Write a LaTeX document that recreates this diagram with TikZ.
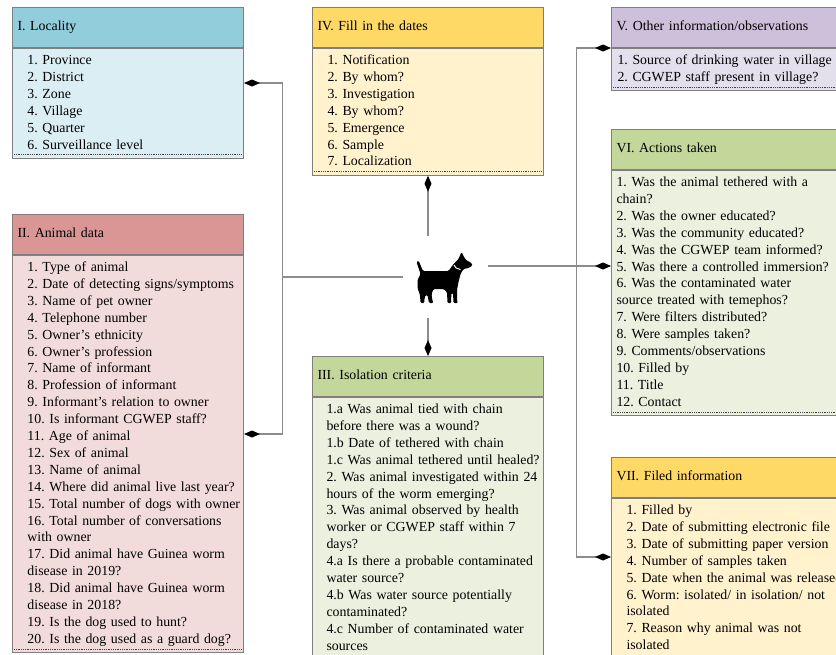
\documentclass[tikz,border=0pt]{standalone}
\usepackage{fontspec}
\setmainfont{Liberation Serif}
\usetikzlibrary{positioning, calc, arrows.meta}

\definecolor{locHead}{HTML}{92CDDC}
\definecolor{locBody}{HTML}{DAEEF3}
\definecolor{aniHead}{HTML}{DA9694}
\definecolor{aniBody}{HTML}{F2DCDB}
\definecolor{datHead}{HTML}{FFD966}
\definecolor{datBody}{HTML}{FFF2CC}
\definecolor{isoHead}{HTML}{C4D79B}
\definecolor{isoBody}{HTML}{EBF1DE}
\definecolor{othHead}{HTML}{CCC0DA}
\definecolor{othBody}{HTML}{E4DFEC}
\definecolor{boxLine}{HTML}{7F7F7F}
\definecolor{linkGray}{HTML}{8C8C8C}

\begin{document}
\frenchspacing
\begin{tikzpicture}[
    x=1pt, y=-1pt,
    font=\fontsize{13.85pt}{16.9pt}\selectfont,
    head/.style={draw=boxLine, line width=1pt, fill=#1, anchor=north west,
        minimum width=231pt, minimum height=40pt, text width=221pt,
        inner xsep=5pt, align=left, execute at begin node=\strut},
    body/.style 2 args={draw=boxLine, line width=1pt, fill=#1,
        text width=231pt, inner xsep=0pt, inner ysep=4.2pt, align=left,
        execute at begin node={\leftskip=#2\rightskip=-40pt plus 1fil\relax\strut},
        execute at end node=\strut},
    dotline/.style={draw=black!75, line width=0.8pt, densely dotted},
    link/.style={draw=linkGray, line width=1.1pt},
    dia/.style={-{Diamond[length=16pt, width=7pt, color=black]}}
]
    \useasboundingbox (0,0) rectangle (836,654);

    % left column
    \node[head=locHead] (locH) at (12,7) {I. Locality};
    \node[body={locBody}{15pt}, below=0pt of locH] (locB) {1. Province\\2. District\\3. Zone\\4. Village\\5. Quarter\\6. Surveillance level};

    \node[head=aniHead] (aniH) at (12,214) {II. Animal data};
    \node[body={aniBody}{15pt}, below=0pt of aniH] (aniB) {1. Type of animal\\
        2. Date of detecting signs/symptoms\\
        3. Name of pet owner\\
        4. Telephone number\\
        5. Owner's ethnicity\\
        6. Owner's profession\\
        7. Name of informant\\
        8. Profession of informant\\
        9. Informant's relation to owner\\
        10. Is informant CGWEP staff?\\
        11. Age of animal\\
        12. Sex of animal\\
        13. Name of animal\\
        14. Where did animal live last year?\\
        15. Total number of dogs with owner\\
        16. Total number of conversations\\
        with owner\\
        17. Did animal have Guinea worm\\
        disease in 2019?\\
        18. Did animal have Guinea worm\\
        disease in 2018?\\
        19. Is the dog used to hunt?\\
        20. Is the dog used as a guard dog?};

    % middle column
    \node[head=datHead] (datH) at (312,7) {IV. Fill in the dates};
    \node[body={datBody}{15pt}, below=0pt of datH] (datB) {1. Notification\\2. By whom?\\3. Investigation\\4. By whom?\\5. Emergence\\6. Sample\\7. Localization};

    \node[head=isoHead] (isoH) at (312,356) {III. Isolation criteria};
    \node[body={isoBody}{14pt}, below=0pt of isoH] (isoB) {1.a Was animal tied with chain\\
        before there was a wound?\\
        1.b Date of tethered with chain\\
        1.c Was animal tethered until healed?\\
        2. Was animal investigated within 24\\
        hours of the worm emerging?\\
        3. Was animal observed by health\\
        worker or CGWEP staff within 7\\
        days?\\
        4.a Is there a probable contaminated\\
        water source?\\
        4.b Was water source potentially\\
        contaminated?\\
        4.c Number of contaminated water\\
        sources};

    % right column
    \node[head=othHead] (othH) at (611,7) {V. Other information/observations};
    \node[body={othBody}{6pt}, below=0pt of othH] (othB) {1. Source of drinking water in village\\2. CGWEP staff present in village?};

    \node[head=isoHead] (actH) at (611,129) {VI. Actions taken};
    \node[body={isoBody}{5pt}, below=0pt of actH] (actB) {1. Was the animal tethered with a\\
        chain?\\
        2. Was the owner educated?\\
        3. Was the community educated?\\
        4. Was the CGWEP team informed?\\
        5. Was there a controlled immersion?\\
        6. Was the contaminated water\\
        source treated with temephos?\\
        7. Were filters distributed?\\
        8. Were samples taken?\\
        9. Comments/observations\\
        10. Filled by\\
        11. Title\\
        12. Contact};

    \node[head=datHead] (filH) at (611,457) {VII. Filed information};
    \node[body={datBody}{15pt}, below=0pt of filH] (filB) {1. Filled by\\
        2. Date of submitting electronic file\\
        3. Date of submitting paper version\\
        4. Number of samples taken\\
        5. Date when the animal was released\\
        6. Worm: isolated/ in isolation/ not\\
        isolated\\
        7. Reason why animal was not\\
        isolated};

    \foreach \b in {locB, aniB, datB, isoB, othB, actB, filB}
        \draw[dotline] ($(\b.south west)+(2,-4)$) -- ($(\b.south east)+(-2,-4)$);

    % the dog
    \node[minimum width=85pt, minimum height=81pt, inner sep=0pt] (dog) at (445.5,277) {};
    \begin{scope}[shift={($(dog.center)+(-30,-25)$)}]
        \fill[black, rounded corners=1.2pt] (5,22) -- (1,10) -- (3,8.5) -- (7.5,19) -- (33,19)
            -- (38,12) -- (43,7) -- (46,0) -- (48.5,5) -- (50.5,8) -- (56,11) -- (57,13.5)
            -- (53,16) -- (48,17) -- (45,22) -- (43,30) -- (41.5,38) -- (41.5,49) -- (42.5,51)
            -- (38,51) -- (37.5,41) -- (36,41) -- (35.5,49) -- (36,51) -- (32,51) -- (31.5,40)
            -- (28,37) -- (18,37) -- (16,42) -- (17,49) -- (18,51) -- (13.5,51) -- (12,43)
            -- (10,43) -- (8.5,49) -- (9,51) -- (5,51) -- (4.5,43) -- (2,36) -- (2,28) -- cycle;
        \draw[white, line width=1pt] (38.5,13) .. controls (40,16) .. (45,17.5);
    \end{scope}

    % connectors
    \coordinate (jL) at ($(dog.west)+(-120,0)$);
    \coordinate (jR) at ($(dog.east)+(88,-11)$);
    \draw[link] (dog.west) -- (jL);
    \draw[link, dia] (jL) |- ($(locB.north east)+(0,35)$);
    \draw[link, dia] (jL) |- ($(aniB.north east)+(0,179)$);
    \draw[link, {Diamond[length=16pt, width=7pt, color=black]}-] (datB.south) -- (datB.south |- dog.north);
    \draw[link, dia] (isoH.north |- dog.south) -- (isoH.north);
    \draw[link, dia] (jR -| dog.east) -- (jR -| actB.west);
    \draw[link, dia] (jR) |- (othB.north west);
    \draw[link, dia] (jR) |- ($(filB.north west)+(0,59)$);

\end{tikzpicture}
\end{document}
